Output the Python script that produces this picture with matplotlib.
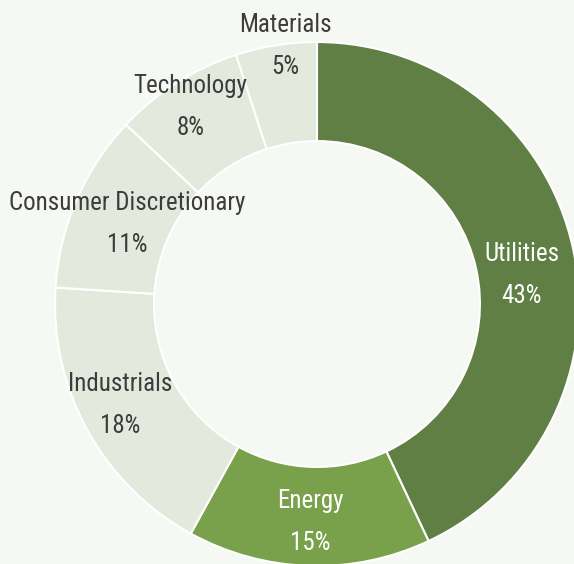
"""
Donut chart of portfolio weights by sector.
"""

import numpy as np
import matplotlib.pyplot as plt

sectors = ['Utilities', 'Energy', 'Industrials', 'Consumer Discretionary',
           'Technology', 'Materials']
weights = [43, 15, 18, 11, 8, 5]
pct_labels = ['43%', '15%', '18%', '11%', '8%', '5%']

colors = ['#5f7f45', '#79a04b', '#e3eadd', '#e3eadd', '#e3eadd', '#e3eadd']
text_colors = ['white', 'white', '#3c3c3c', '#3c3c3c', '#3c3c3c', '#3c3c3c']
# radial distance of each label (small slices get pushed outwards)
label_radius = [0.79, 0.825, 0.84, 0.79, 0.90, 1.0]
angle_nudge = [4, 0, 2, 0, 0, 2]

bg = '#f6f8f3'
plt.rcParams['font.family'] = ['Roboto Condensed', 'DejaVu Sans']
plt.rcParams['font.stretch'] = 'condensed'

fig = plt.figure(figsize=(5.74, 5.64), dpi=100, facecolor=bg)
ax = fig.add_axes([0, 0, 1, 1])
ax.set_facecolor(bg)

wedges, _ = ax.pie(weights, colors=colors, startangle=90, counterclock=False,
                   radius=1.0,
                   wedgeprops=dict(width=0.378, edgecolor='white', linewidth=1.5))

# label placement: mid angle of each slice, measured clockwise from the top
total = float(sum(weights))
start = 0.0
for i, w in enumerate(weights):
    mid = np.deg2rad(start + w / total * 360 / 2 + angle_nudge[i])
    start += w / total * 360
    r = label_radius[i]
    x, y = r * np.sin(mid), r * np.cos(mid) - 0.008
    ax.text(x, y + 0.08, sectors[i], ha='center', va='center',
            fontsize=18, color=text_colors[i], fontstretch='condensed')
    ax.text(x, y - 0.08, pct_labels[i], ha='center', va='center',
            fontsize=18, color=text_colors[i], fontstretch='condensed')

ax.set_xlim(-1.210, 0.981)
ax.set_ylim(-0.992, 1.160)
ax.set_aspect('equal')
ax.axis('off')

plt.savefig('out.png', dpi=100, facecolor=bg)
